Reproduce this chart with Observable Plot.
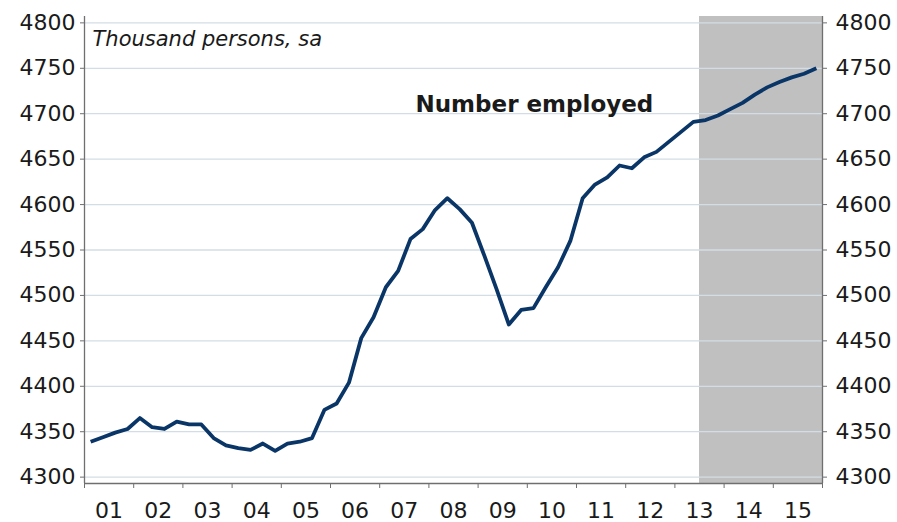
<!DOCTYPE html>
<html>
<head>
<meta charset="utf-8">
<script src="https://cdn.jsdelivr.net/npm/d3@7"></script>
<script src="https://cdn.jsdelivr.net/npm/@observablehq/plot@0.6"></script>
<style>
  html, body { margin: 0; padding: 0; background: #fff; }
  #chart svg { display: block; }
</style>
</head>
<body>
<div id="chart"></div>
<script>
// Quarterly number employed, thousand persons (2001Q1 .. 2015Q4)
const startYear = 2001;
const employed = [
  4339, 4344, 4349, 4353,
  4365, 4355, 4353, 4361,
  4358, 4358, 4343, 4335,
  4332, 4330, 4337, 4329,
  4337, 4339, 4343, 4374,
  4381, 4404, 4453, 4476,
  4509, 4527, 4562, 4573,
  4594, 4607, 4595, 4580,
  4544, 4507, 4468, 4484,
  4486, 4509, 4531, 4560,
  4607, 4622, 4630, 4643,
  4640, 4652, 4658, 4669,
  4680, 4691, 4693, 4698,
  4705, 4712, 4721, 4729,
  4735, 4740, 4744, 4750
];
const yearLabels = ["01","02","03","04","05","06","07","08","09","10","11","12","13","14","15"];
const yTicks = [4300, 4350, 4400, 4450, 4500, 4550, 4600, 4650, 4700, 4750, 4800];
const yDomain = [4293, 4807];
const xDomain = [2001, 2016];
const forecastShade = [{start: 2013.5, end: 2016}];
const subtitle = "Thousand persons, sa";
const seriesLabel = "Number employed";

const data = employed.map((v, i) => ({t: startYear + (i + 0.5) / 4, value: v}));
const yearBounds = d3.range(xDomain[0], xDomain[1] + 1);
const yearCenters = yearLabels.map((_, i) => startYear + i + 0.5);

const axisColor = "#6f6f6f";
const textColor = "#1a1a1a";

const chart = Plot.plot({
  width: 897,
  height: 522,
  marginLeft: 84,
  marginRight: 75,
  marginTop: 16,
  marginBottom: 39,
  style: {fontFamily: "'DejaVu Sans', Verdana, sans-serif", fontSize: "22px", color: textColor, background: "#fff"},
  x: {type: "linear", domain: xDomain},
  y: {domain: yDomain},
  marks: [
    Plot.rect(forecastShade, {x1: "start", x2: "end", fill: "#c0c0c0"}),
    Plot.ruleY(yTicks, {stroke: "#d3dde5", strokeWidth: 1.3}),
    Plot.ruleX([xDomain[0], xDomain[1]], {stroke: axisColor, strokeWidth: 1.3}),
    Plot.ruleY([yDomain[0]], {stroke: axisColor, strokeWidth: 1.3}),
    Plot.axisY({anchor: "left", ticks: yTicks, tickSize: 4, tickPadding: 5, tickFormat: d => String(d), label: null, stroke: axisColor, fill: textColor}),
    Plot.axisY({anchor: "right", ticks: yTicks, tickSize: 4, tickPadding: 9, tickFormat: d => String(d), label: null, stroke: axisColor, fill: textColor}),
    Plot.axisX({ticks: yearBounds, tickSize: 5, tickFormat: () => "", label: null, stroke: axisColor}),
    Plot.axisX({ticks: yearCenters, tickSize: 0, tickPadding: 19, tickFormat: (d, i) => yearLabels[i], label: null, fill: textColor}),
    Plot.line(data, {x: "t", y: "value", stroke: "#0a3567", strokeWidth: 3.8, strokeLinejoin: "round", strokeLinecap: "butt"}),
    Plot.text([subtitle], {frameAnchor: "top-left", dx: 8, dy: 29.7, text: d => d, textAnchor: "start", lineAnchor: "bottom", fontStyle: "italic", fontSize: 21, fill: textColor}),
    Plot.text([seriesLabel], {frameAnchor: "top-left", dx: 331, dy: 95.7, text: d => d, textAnchor: "start", lineAnchor: "bottom", fontWeight: "bold", fontSize: 23, fill: textColor})
  ]
});
document.getElementById("chart").appendChild(chart);
</script>
</body>
</html>
